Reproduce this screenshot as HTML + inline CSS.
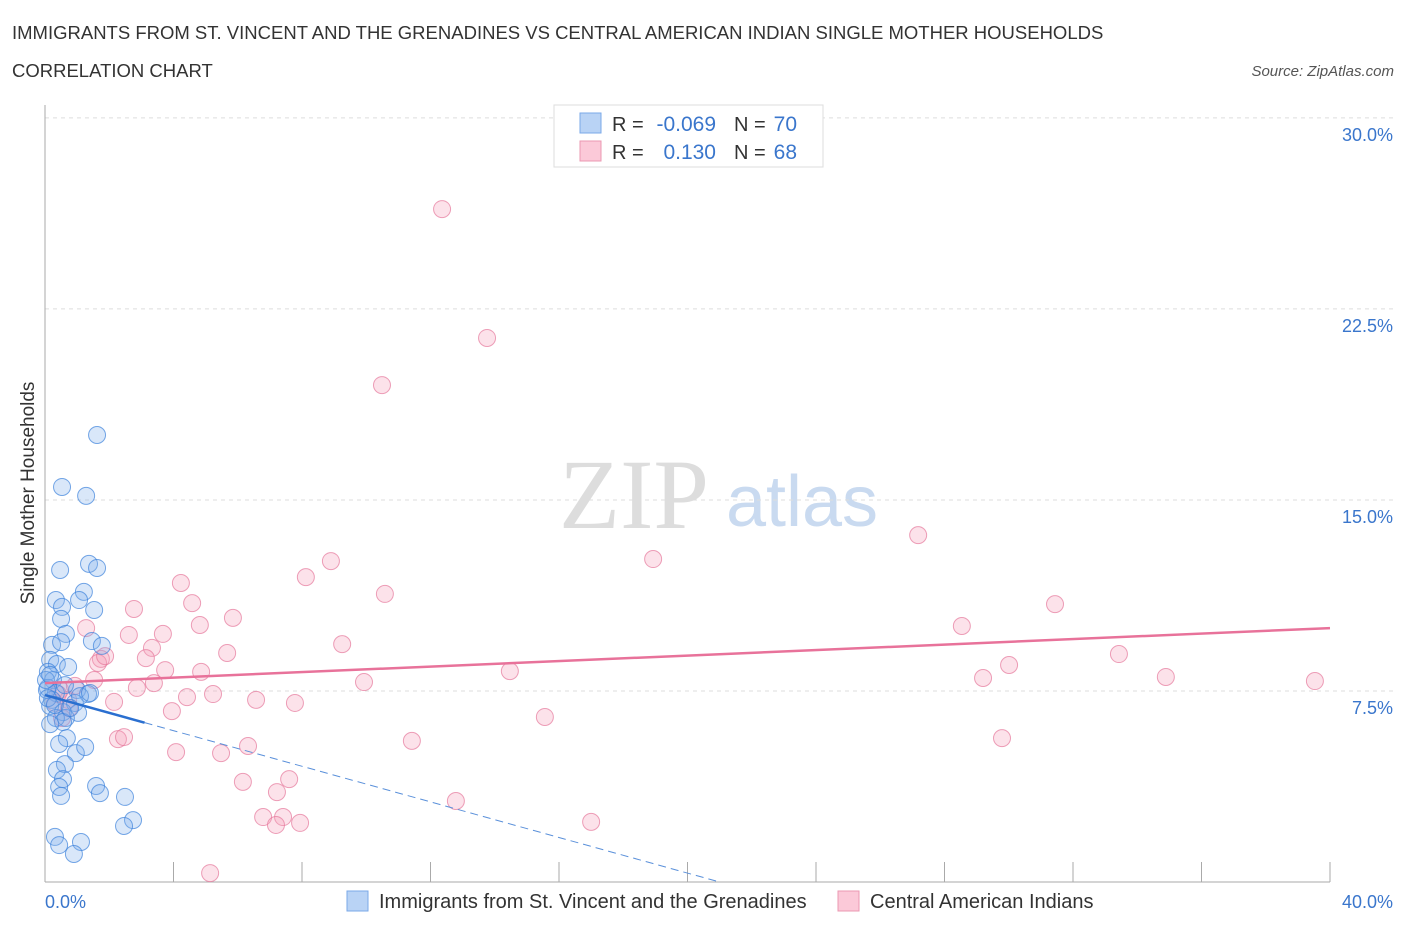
<!DOCTYPE html>
<html><head><meta charset="utf-8"><style>
body{margin:0;background:#fff;font-family:"Liberation Sans",sans-serif;}
svg text{font-family:"Liberation Sans",sans-serif;}
</style></head><body>
<svg id="chart" width="1406" height="930">
<text x="12" y="39" font-size="18.5" fill="#333">IMMIGRANTS FROM ST. VINCENT AND THE GRENADINES VS CENTRAL AMERICAN INDIAN SINGLE MOTHER HOUSEHOLDS</text>
<text x="12" y="77" font-size="18.5" fill="#333">CORRELATION CHART</text>
<text x="1394" y="76" font-size="15" fill="#555" font-style="italic" text-anchor="end">Source: ZipAtlas.com</text>
<text x="634" y="528" font-size="100" fill="#ddd" text-anchor="middle" font-family="Liberation Serif" style="font-family:'Liberation Serif',serif">ZIP</text>
<text x="802" y="526" font-size="72" fill="#c9daf0" text-anchor="middle">atlas</text>
<g id="grid"></g><g id="axes"></g><g id="pts"></g><g id="trend"></g>
<g>
<rect x="554" y="105" width="269" height="62" fill="#fff" stroke="#ddd"/>
<rect x="580" y="113" width="21" height="20" fill="#b9d3f5" stroke="#7aa8e8"/>
<rect x="580" y="141" width="21" height="20" fill="#fbc9d8" stroke="#eb98b2"/>
<text x="612" y="131" font-size="20" fill="#333">R =</text><text x="716" y="131" font-size="21" fill="#3a76cc" text-anchor="end">-0.069</text>
<text x="734" y="131" font-size="20" fill="#333">N =</text><text x="797" y="131" font-size="21" fill="#3a76cc" text-anchor="end">70</text>
<text x="612" y="159" font-size="20" fill="#333">R =</text><text x="716" y="159" font-size="21" fill="#3a76cc" text-anchor="end">0.130</text>
<text x="734" y="159" font-size="20" fill="#333">N =</text><text x="797" y="159" font-size="21" fill="#3a76cc" text-anchor="end">68</text>
</g>
<g>
<rect x="347" y="891" width="21" height="20" fill="#b9d3f5" stroke="#7aa8e8"/>
<text x="379" y="908" font-size="20" fill="#333">Immigrants from St. Vincent and the Grenadines</text>
<rect x="838" y="891" width="21" height="20" fill="#fbc9d8" stroke="#eb98b2"/>
<text x="870" y="908" font-size="20" fill="#333">Central American Indians</text>
</g>
<text transform="translate(34,493) rotate(-90)" font-size="19" fill="#333" text-anchor="middle">Single Mother Households</text>
</svg>
<script>
const yTicks=[7.5,15,22.5,30];
const yTickLabels=["7.5%","15.0%","22.5%","30.0%"];
const xTickLabels=["0.0%","40.0%"];
const blueX=[1.62,0.53,1.28,1.37,1.62,0.47,1.21,0.34,1.06,0.53,1.53,0.50,0.65,0.22,0.50,1.46,1.77,0.16,0.37,0.72,0.09,0.25,0.09,1.00,1.34,0.34,0.22,0.93,0.16,0.56,1.03,0.65,0.34,0.56,0.16,0.68,0.44,0.96,1.25,0.62,0.37,0.56,0.44,1.59,1.71,0.50,2.49,2.74,2.46,0.31,1.12,0.44,0.90,0.06,0.03,0.16,1.09,1.40,0.09,0.31,0.62,0.78];
const blueY=[17.55,15.51,15.16,12.49,12.33,12.25,11.39,11.07,11.07,10.80,10.68,10.33,9.74,9.31,9.42,9.46,9.27,8.72,8.56,8.44,8.25,7.93,7.62,7.54,7.38,7.42,7.15,7.03,6.91,6.67,6.64,6.44,6.44,6.28,6.20,5.65,5.42,5.06,5.30,4.63,4.40,4.04,3.73,3.77,3.49,3.38,3.34,2.43,2.20,1.77,1.57,1.45,1.10,7.54,7.93,8.13,7.30,7.42,7.22,6.95,7.73,6.83];
const pinkX=[12.36,13.76,10.49,27.18,18.93,8.90,8.12,4.23,10.58,31.44,2.77,4.58,5.85,4.82,28.54,2.61,3.67,1.28,3.33,9.25,5.67,33.43,1.74,1.65,3.14,1.87,30.01,14.47,3.74,4.86,1.53,29.20,34.89,39.53,3.39,9.93,2.86,4.42,5.23,6.57,7.78,2.15,3.95,15.56,0.47,0.31,0.72,6.32,11.42,29.79,2.27,2.46,4.08,5.48,6.16,7.60,7.22,12.79,6.79,7.41,7.94,7.19,17.00,5.14,0.75,0.53,0.40,0.93];
const pinkY=[26.42,21.36,19.51,13.62,12.68,12.60,11.97,11.74,11.31,10.91,10.72,10.95,10.37,10.09,10.05,9.70,9.74,9.97,9.19,9.34,8.99,8.95,8.76,8.60,8.79,8.87,8.52,8.28,8.32,8.25,7.93,8.01,8.05,7.89,7.81,7.85,7.62,7.26,7.38,7.15,7.03,7.07,6.71,6.48,7.54,7.03,7.15,5.34,5.54,5.65,5.61,5.69,5.10,5.06,3.93,4.04,3.53,3.18,2.55,2.55,2.32,2.24,2.36,0.35,6.83,6.44,7.38,7.70];
const pinkTrend=[7.81,9.97];
const blueTrend=[7.34];
const blueSlopeEnd=21.0, blueSolidEnd=3.1;
const NS="http://www.w3.org/2000/svg";
const sx=v=>45+v*32.125, sy=v=>882-v*25.47;
function mk(parent,tag,attrs){const e=document.createElementNS(NS,tag);for(const k in attrs)e.setAttribute(k,attrs[k]);document.getElementById(parent).appendChild(e);return e;}
yTicks.forEach((t,i)=>{
 const g=mk('grid','line',{x1:45,x2:1394,y1:sy(t),y2:sy(t),stroke:'#ddd','stroke-dasharray':'4,4'});
 
 
 const tx=mk('grid','text',{x:1393,y:sy(t)+23,'font-size':18,fill:'#3a76cc','text-anchor':'end'});tx.textContent=yTickLabels[i];
 
 
});
const ax=mk('axes','line',{x1:45,x2:45,y1:105,y2:882,stroke:'#aaa'});


const bx=mk('axes','line',{x1:45,x2:1330,y1:882,y2:882,stroke:'#aaa'});


for(let i=1;i<=10;i++){const t=mk('axes','line',{x1:sx(i*4),x2:sx(i*4),y1:862,y2:882,stroke:'#aaa'});
 
 }
[[0,'start',45],[40,'end',1393]].forEach((d,i)=>{const t=mk('axes','text',{x:d[2],y:908,'font-size':18,fill:'#3a76cc','text-anchor':d[1]});t.textContent=xTickLabels[i];
 
 });
pinkX.forEach((x,i)=>{const c=mk('pts','circle',{cx:sx(x),cy:sy(pinkY[i]),r:8.5,fill:'rgba(245,160,185,0.3)',stroke:'rgba(230,120,155,0.7)','stroke-width':1});
 
 });
blueX.forEach((x,i)=>{const c=mk('pts','circle',{cx:sx(x),cy:sy(blueY[i]),r:8.5,fill:'rgba(130,175,235,0.3)',stroke:'rgba(60,130,220,0.7)','stroke-width':1});
 
 });
const pl=mk('trend','line',{x1:sx(0),y1:sy(pinkTrend[0]),x2:sx(40),y2:sy(pinkTrend[1]),stroke:'#e8729a','stroke-width':2.5});


const b0=blueTrend[0], bAt=x=>b0*(1-x/blueSlopeEnd);
const bs=mk('trend','line',{x1:sx(0),y1:sy(bAt(0)),x2:sx(blueSolidEnd),y2:sy(bAt(blueSolidEnd)),stroke:'#2a6fd0','stroke-width':2.5});


const bd=mk('trend','line',{x1:sx(blueSolidEnd),y1:sy(bAt(blueSolidEnd)),x2:sx(blueSlopeEnd),y2:sy(0),stroke:'#5a90da','stroke-width':1,'stroke-dasharray':'8,5'});


</script>
</body></html>
